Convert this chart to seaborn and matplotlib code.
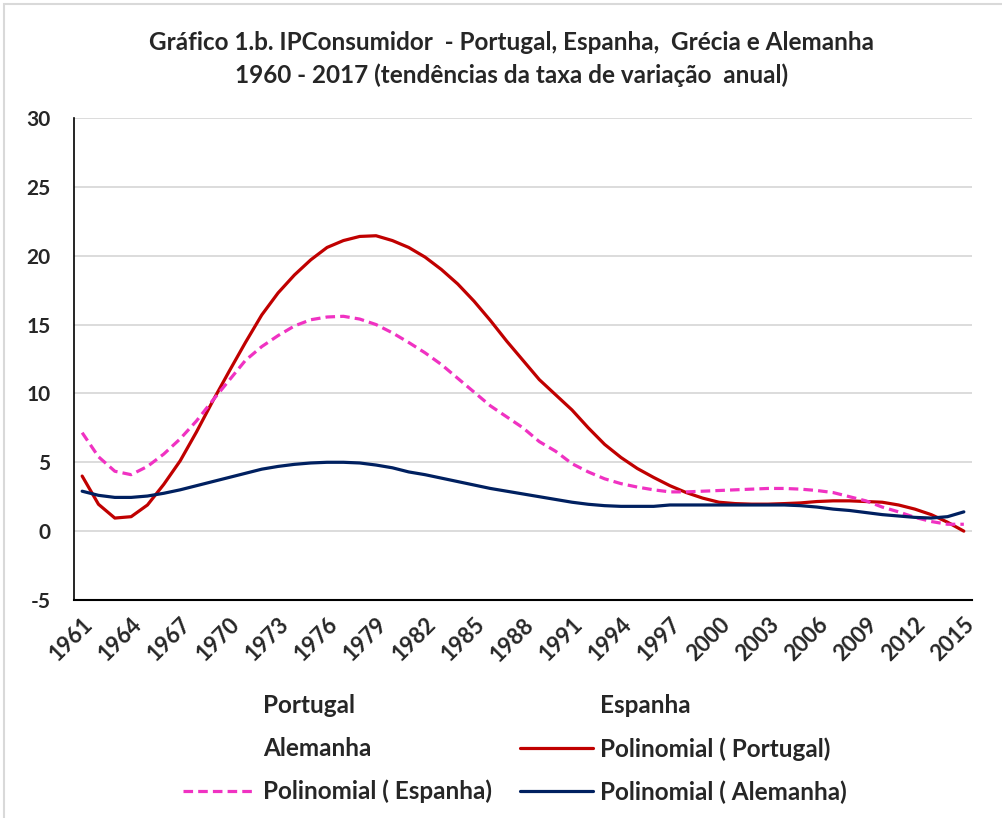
import matplotlib
matplotlib.use("Agg")
import matplotlib.pyplot as plt
import matplotlib.patches as mpatches
from matplotlib.lines import Line2D
import seaborn as sns
import pandas as pd

years = list(range(1961, 2016))

portugal = [4.0, 1.95, 0.95, 1.05, 1.9, 3.4, 5.1, 7.2, 9.45, 11.6,
            13.7, 15.7, 17.3, 18.6, 19.7, 20.6, 21.1, 21.4, 21.45, 21.1,
            20.6, 19.9, 19.0, 17.95, 16.7, 15.3, 13.8, 12.4, 11.0, 9.9,
            8.8, 7.5, 6.3, 5.35, 4.55, 3.9, 3.3, 2.8, 2.4, 2.1,
            2.0, 1.96, 1.96, 2.0, 2.05, 2.15, 2.2, 2.2, 2.15, 2.1,
            1.9, 1.6, 1.2, 0.65, 0.0]

espanha = [7.15, 5.4, 4.35, 4.1, 4.7, 5.6, 6.7, 8.0, 9.5, 10.95,
           12.4, 13.4, 14.2, 14.9, 15.35, 15.55, 15.6, 15.4, 15.0, 14.4,
           13.7, 12.95, 12.1, 11.1, 10.1, 9.1, 8.3, 7.5, 6.5, 5.8,
           4.9, 4.3, 3.8, 3.45, 3.2, 3.0, 2.85, 2.85, 2.9, 2.95,
           3.0, 3.05, 3.1, 3.1, 3.05, 2.95, 2.8, 2.5, 2.2, 1.75,
           1.4, 1.0, 0.7, 0.5, 0.5]

alemanha = [2.9, 2.6, 2.45, 2.45, 2.55, 2.75, 3.0, 3.3, 3.6, 3.9,
            4.2, 4.5, 4.7, 4.85, 4.95, 5.0, 5.0, 4.95, 4.8, 4.6,
            4.3, 4.1, 3.85, 3.6, 3.35, 3.1, 2.9, 2.7, 2.5, 2.3,
            2.1, 1.95, 1.85, 1.8, 1.8, 1.8, 1.9, 1.9, 1.9, 1.9,
            1.9, 1.9, 1.9, 1.9, 1.85, 1.75, 1.6, 1.5, 1.35, 1.2,
            1.1, 1.0, 0.95, 1.05, 1.4]

tick_years = list(range(1961, 2016, 3))
y_ticks = list(range(-5, 31, 5))

title = ("Gráfico 1.b. IPConsumidor  - Portugal, Espanha,  Grécia e Alemanha\n"
         "1960 - 2017 (tendências da taxa de variação  anual)")

sns.set_style("white")
plt.rcParams['font.family'] = ['Lato', 'DejaVu Sans']
plt.rcParams['axes.unicode_minus'] = False

df = pd.DataFrame({'ano': years, 'Portugal': portugal,
                   'Espanha': espanha, 'Alemanha': alemanha})

fig = plt.figure(figsize=(10.03, 8.18), dpi=100)
ax = fig.add_axes([74 / 1003, 1 - 600 / 818, (972 - 74) / 1003, (600 - 118) / 818])

red = '#C00000'
pink = '#F032C2'
navy = '#002060'

sns.lineplot(data=df, x='ano', y='Portugal', color=red, linewidth=2.3, ax=ax)
sns.lineplot(data=df, x='ano', y='Espanha', color=pink, linewidth=2.3, ax=ax)
ax.lines[-1].set_dashes([3, 1.6])
sns.lineplot(data=df, x='ano', y='Alemanha', color=navy, linewidth=2.3, ax=ax)

ax.set_xlim(1960.5, 2015.5)
ax.set_ylim(-5, 30)
ax.set_yticks(y_ticks)
ax.set_xticks(tick_years)
ax.set_xticklabels([str(y) for y in tick_years], rotation=45, ha='right',
                   rotation_mode='anchor', fontweight='bold', fontsize=16)
ax.set_yticklabels([str(v) for v in y_ticks], fontweight='bold', fontsize=15)
ax.tick_params(axis='x', length=0, pad=10)
ax.tick_params(axis='y', length=0, pad=17)
ax.set_xlabel('')
ax.set_ylabel('')
ax.yaxis.grid(True, color='#d9d9d9', linewidth=1.3)
ax.xaxis.grid(False)
for s in ['top', 'right']:
    ax.spines[s].set_visible(False)
ax.spines['left'].set_color('black')
ax.spines['left'].set_linewidth(1.2)
ax.spines['bottom'].set_color('black')
ax.spines['bottom'].set_linewidth(1.5)
ax.set_axisbelow(True)

fig.text(0.51, 1 - 59 / 818, title, ha='center', va='center',
         fontweight='bold', fontsize=17.5, linespacing=1.45)

blank = lambda lab: Line2D([], [], linestyle='none', label=lab)
handles = [
    blank('Portugal'),
    blank('Alemanha'),
    Line2D([], [], color=pink, linewidth=2.3, dashes=[3, 1.6], label='Polinomial ( Espanha)'),
    blank('Espanha'),
    Line2D([], [], color=red, linewidth=2.3, label='Polinomial ( Portugal)'),
    Line2D([], [], color=navy, linewidth=2.3, label='Polinomial ( Alemanha)'),
]
fig.legend(handles=handles, ncol=2, loc='upper center',
           bbox_to_anchor=(515 / 1003, 1 - 694 / 818), frameon=False,
           prop={'weight': 'bold', 'size': 17.5}, handlelength=3.0,
           handletextpad=0.3, labelspacing=0.82, columnspacing=1.15,
           borderaxespad=0, borderpad=0)

fig.patches.append(mpatches.Rectangle((4 / 1003, -0.1), 1.2, 1.1 - 4 / 818,
                                      transform=fig.transFigure, fill=False,
                                      edgecolor='#d9d9d9', linewidth=1.5))

fig.savefig('out.png', dpi=100)
